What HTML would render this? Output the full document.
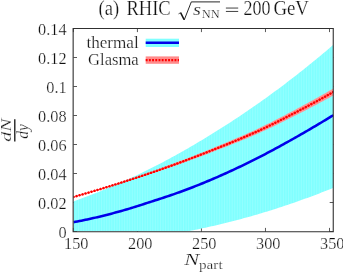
<!DOCTYPE html>
<html><head><meta charset="utf-8"><style>
html,body{margin:0;padding:0;background:#fff;}
svg{display:block;font-family:"Liberation Serif",serif;}
svg{will-change:transform;}
text{stroke:#fff;stroke-width:0.24px;}
</style></head><body>
<svg width="343" height="272" viewBox="0 0 343 272">
<rect width="343" height="272" fill="#fff"/>
<clipPath id="c"><rect x="73.4" y="28.5" width="259.9" height="203.0"/></clipPath>
<g stroke="#222" stroke-width="0.75" fill="none">
<path d="M73.40,231.75 v-3.85 M73.40,28.5 v3.6"/>
<path d="M137.43,231.75 v-3.85 M137.43,28.5 v3.6"/>
<path d="M201.45,231.75 v-3.85 M201.45,28.5 v3.6"/>
<path d="M265.48,231.75 v-3.85 M265.48,28.5 v3.6"/>
<path d="M329.50,231.75 v-3.85 M329.50,28.5 v3.6"/>
<path d="M73.4,231.50 h3.6 M333.3,231.50 h-3.6"/>
<path d="M73.4,202.50 h3.6 M333.3,202.50 h-3.6"/>
<path d="M73.4,173.50 h3.6 M333.3,173.50 h-3.6"/>
<path d="M73.4,144.50 h3.6 M333.3,144.50 h-3.6"/>
<path d="M73.4,115.50 h3.6 M333.3,115.50 h-3.6"/>
<path d="M73.4,86.50 h3.6 M333.3,86.50 h-3.6"/>
<path d="M73.4,57.50 h3.6 M333.3,57.50 h-3.6"/>
<path d="M73.4,28.50 h3.6 M333.3,28.50 h-3.6"/>
</g>
<g clip-path="url(#c)">
<path d="M73.40,201.43 L75.40,200.72 L77.40,200.01 L79.40,199.28 L81.40,198.55 L83.40,197.82 L85.40,197.07 L87.39,196.32 L89.39,195.56 L91.39,194.79 L93.39,194.02 L95.39,193.23 L97.39,192.44 L99.39,191.64 L101.39,190.84 L103.39,190.03 L105.39,189.20 L107.39,188.37 L109.39,187.54 L111.39,186.69 L113.38,185.84 L115.38,184.98 L117.38,184.11 L119.38,183.23 L121.38,182.35 L123.38,181.45 L125.38,180.55 L127.38,179.64 L129.38,178.72 L131.38,177.80 L133.38,176.86 L135.38,175.92 L137.38,174.97 L139.37,174.01 L141.37,173.05 L143.37,172.07 L145.37,171.09 L147.37,170.10 L149.37,169.10 L151.37,168.09 L153.37,167.07 L155.37,166.05 L157.37,165.02 L159.37,163.98 L161.37,162.93 L163.37,161.88 L165.36,160.81 L167.36,159.74 L169.36,158.67 L171.36,157.58 L173.36,156.49 L175.36,155.39 L177.36,154.28 L179.36,153.16 L181.36,152.04 L183.36,150.91 L185.36,149.77 L187.36,148.63 L189.36,147.48 L191.35,146.32 L193.35,145.15 L195.35,143.98 L197.35,142.80 L199.35,141.61 L201.35,140.42 L203.35,139.22 L205.35,138.01 L207.35,136.79 L209.35,135.57 L211.35,134.34 L213.35,133.11 L215.35,131.86 L217.34,130.61 L219.34,129.36 L221.34,128.09 L223.34,126.82 L225.34,125.54 L227.34,124.25 L229.34,122.96 L231.34,121.66 L233.34,120.35 L235.34,119.04 L237.34,117.71 L239.34,116.38 L241.34,115.04 L243.33,113.70 L245.33,112.35 L247.33,110.98 L249.33,109.62 L251.33,108.24 L253.33,106.86 L255.33,105.46 L257.33,104.06 L259.33,102.66 L261.33,101.24 L263.33,99.82 L265.33,98.39 L267.33,96.95 L269.32,95.50 L271.32,94.04 L273.32,92.58 L275.32,91.11 L277.32,89.63 L279.32,88.14 L281.32,86.65 L283.32,85.14 L285.32,83.63 L287.32,82.11 L289.32,80.58 L291.32,79.04 L293.32,77.50 L295.31,75.94 L297.31,74.38 L299.31,72.81 L301.31,71.23 L303.31,69.65 L305.31,68.05 L307.31,66.45 L309.31,64.84 L311.31,63.22 L313.31,61.59 L315.31,59.95 L317.31,58.31 L319.31,56.65 L321.30,54.99 L323.30,53.32 L325.30,51.64 L327.30,49.96 L329.30,48.26 L331.30,46.56 L333.30,44.84 L333.30,187.84 L331.30,188.65 L329.30,189.45 L327.30,190.25 L325.30,191.04 L323.30,191.83 L321.30,192.60 L319.31,193.38 L317.31,194.14 L315.31,194.91 L313.31,195.66 L311.31,196.41 L309.31,197.15 L307.31,197.89 L305.31,198.62 L303.31,199.35 L301.31,200.07 L299.31,200.78 L297.31,201.49 L295.31,202.19 L293.32,202.89 L291.32,203.58 L289.32,204.26 L287.32,204.94 L285.32,205.61 L283.32,206.28 L281.32,206.94 L279.32,207.59 L277.32,208.24 L275.32,208.89 L273.32,209.52 L271.32,210.15 L269.32,210.78 L267.33,211.40 L265.33,212.01 L263.33,212.62 L261.33,213.22 L259.33,213.82 L257.33,214.41 L255.33,214.99 L253.33,215.57 L251.33,216.14 L249.33,216.71 L247.33,217.27 L245.33,217.82 L243.33,218.37 L241.34,218.91 L239.34,219.45 L237.34,219.98 L235.34,220.51 L233.34,221.03 L231.34,221.54 L229.34,222.05 L227.34,222.55 L225.34,223.05 L223.34,223.54 L221.34,224.02 L219.34,224.50 L217.34,224.97 L215.35,225.44 L213.35,225.90 L211.35,226.36 L209.35,226.81 L207.35,227.25 L205.35,227.69 L203.35,228.12 L201.35,228.55 L199.35,228.97 L197.35,229.38 L195.35,229.79 L193.35,230.19 L191.35,230.59 L189.36,230.98 L187.36,231.37 L185.36,231.50 L183.36,231.50 L181.36,231.50 L179.36,231.50 L177.36,231.50 L175.36,231.50 L173.36,231.50 L171.36,231.50 L169.36,231.50 L167.36,231.50 L165.36,231.50 L163.37,231.50 L161.37,231.50 L159.37,231.50 L157.37,231.50 L155.37,231.50 L153.37,231.50 L151.37,231.50 L149.37,231.50 L147.37,231.50 L145.37,231.50 L143.37,231.50 L141.37,231.50 L139.37,231.50 L137.38,231.50 L135.38,231.50 L133.38,231.50 L131.38,231.50 L129.38,231.50 L127.38,231.50 L125.38,231.50 L123.38,231.50 L121.38,231.50 L119.38,231.50 L117.38,231.50 L115.38,231.50 L113.38,231.50 L111.39,231.50 L109.39,231.50 L107.39,231.50 L105.39,231.50 L103.39,231.50 L101.39,231.50 L99.39,231.50 L97.39,231.50 L95.39,231.50 L93.39,231.50 L91.39,231.50 L89.39,231.50 L87.39,231.50 L85.40,231.50 L83.40,231.50 L81.40,231.50 L79.40,231.50 L77.40,231.50 L75.40,231.50 L73.40,231.50Z" fill="#80ffff"/>
<clipPath id="cb"><path d="M73.40,201.43 L75.40,200.72 L77.40,200.01 L79.40,199.28 L81.40,198.55 L83.40,197.82 L85.40,197.07 L87.39,196.32 L89.39,195.56 L91.39,194.79 L93.39,194.02 L95.39,193.23 L97.39,192.44 L99.39,191.64 L101.39,190.84 L103.39,190.03 L105.39,189.20 L107.39,188.37 L109.39,187.54 L111.39,186.69 L113.38,185.84 L115.38,184.98 L117.38,184.11 L119.38,183.23 L121.38,182.35 L123.38,181.45 L125.38,180.55 L127.38,179.64 L129.38,178.72 L131.38,177.80 L133.38,176.86 L135.38,175.92 L137.38,174.97 L139.37,174.01 L141.37,173.05 L143.37,172.07 L145.37,171.09 L147.37,170.10 L149.37,169.10 L151.37,168.09 L153.37,167.07 L155.37,166.05 L157.37,165.02 L159.37,163.98 L161.37,162.93 L163.37,161.88 L165.36,160.81 L167.36,159.74 L169.36,158.67 L171.36,157.58 L173.36,156.49 L175.36,155.39 L177.36,154.28 L179.36,153.16 L181.36,152.04 L183.36,150.91 L185.36,149.77 L187.36,148.63 L189.36,147.48 L191.35,146.32 L193.35,145.15 L195.35,143.98 L197.35,142.80 L199.35,141.61 L201.35,140.42 L203.35,139.22 L205.35,138.01 L207.35,136.79 L209.35,135.57 L211.35,134.34 L213.35,133.11 L215.35,131.86 L217.34,130.61 L219.34,129.36 L221.34,128.09 L223.34,126.82 L225.34,125.54 L227.34,124.25 L229.34,122.96 L231.34,121.66 L233.34,120.35 L235.34,119.04 L237.34,117.71 L239.34,116.38 L241.34,115.04 L243.33,113.70 L245.33,112.35 L247.33,110.98 L249.33,109.62 L251.33,108.24 L253.33,106.86 L255.33,105.46 L257.33,104.06 L259.33,102.66 L261.33,101.24 L263.33,99.82 L265.33,98.39 L267.33,96.95 L269.32,95.50 L271.32,94.04 L273.32,92.58 L275.32,91.11 L277.32,89.63 L279.32,88.14 L281.32,86.65 L283.32,85.14 L285.32,83.63 L287.32,82.11 L289.32,80.58 L291.32,79.04 L293.32,77.50 L295.31,75.94 L297.31,74.38 L299.31,72.81 L301.31,71.23 L303.31,69.65 L305.31,68.05 L307.31,66.45 L309.31,64.84 L311.31,63.22 L313.31,61.59 L315.31,59.95 L317.31,58.31 L319.31,56.65 L321.30,54.99 L323.30,53.32 L325.30,51.64 L327.30,49.96 L329.30,48.26 L331.30,46.56 L333.30,44.84 L333.30,187.84 L331.30,188.65 L329.30,189.45 L327.30,190.25 L325.30,191.04 L323.30,191.83 L321.30,192.60 L319.31,193.38 L317.31,194.14 L315.31,194.91 L313.31,195.66 L311.31,196.41 L309.31,197.15 L307.31,197.89 L305.31,198.62 L303.31,199.35 L301.31,200.07 L299.31,200.78 L297.31,201.49 L295.31,202.19 L293.32,202.89 L291.32,203.58 L289.32,204.26 L287.32,204.94 L285.32,205.61 L283.32,206.28 L281.32,206.94 L279.32,207.59 L277.32,208.24 L275.32,208.89 L273.32,209.52 L271.32,210.15 L269.32,210.78 L267.33,211.40 L265.33,212.01 L263.33,212.62 L261.33,213.22 L259.33,213.82 L257.33,214.41 L255.33,214.99 L253.33,215.57 L251.33,216.14 L249.33,216.71 L247.33,217.27 L245.33,217.82 L243.33,218.37 L241.34,218.91 L239.34,219.45 L237.34,219.98 L235.34,220.51 L233.34,221.03 L231.34,221.54 L229.34,222.05 L227.34,222.55 L225.34,223.05 L223.34,223.54 L221.34,224.02 L219.34,224.50 L217.34,224.97 L215.35,225.44 L213.35,225.90 L211.35,226.36 L209.35,226.81 L207.35,227.25 L205.35,227.69 L203.35,228.12 L201.35,228.55 L199.35,228.97 L197.35,229.38 L195.35,229.79 L193.35,230.19 L191.35,230.59 L189.36,230.98 L187.36,231.37 L185.36,231.50 L183.36,231.50 L181.36,231.50 L179.36,231.50 L177.36,231.50 L175.36,231.50 L173.36,231.50 L171.36,231.50 L169.36,231.50 L167.36,231.50 L165.36,231.50 L163.37,231.50 L161.37,231.50 L159.37,231.50 L157.37,231.50 L155.37,231.50 L153.37,231.50 L151.37,231.50 L149.37,231.50 L147.37,231.50 L145.37,231.50 L143.37,231.50 L141.37,231.50 L139.37,231.50 L137.38,231.50 L135.38,231.50 L133.38,231.50 L131.38,231.50 L129.38,231.50 L127.38,231.50 L125.38,231.50 L123.38,231.50 L121.38,231.50 L119.38,231.50 L117.38,231.50 L115.38,231.50 L113.38,231.50 L111.39,231.50 L109.39,231.50 L107.39,231.50 L105.39,231.50 L103.39,231.50 L101.39,231.50 L99.39,231.50 L97.39,231.50 L95.39,231.50 L93.39,231.50 L91.39,231.50 L89.39,231.50 L87.39,231.50 L85.40,231.50 L83.40,231.50 L81.40,231.50 L79.40,231.50 L77.40,231.50 L75.40,231.50 L73.40,231.50Z"/></clipPath>
<path d="M75.96,28.5V231.5 M78.52,28.5V231.5 M81.08,28.5V231.5 M83.64,28.5V231.5 M86.21,28.5V231.5 M88.77,28.5V231.5 M91.33,28.5V231.5 M93.89,28.5V231.5 M96.45,28.5V231.5 M99.01,28.5V231.5 M101.57,28.5V231.5 M104.13,28.5V231.5 M106.69,28.5V231.5 M109.25,28.5V231.5 M111.81,28.5V231.5 M114.38,28.5V231.5 M116.94,28.5V231.5 M119.50,28.5V231.5 M122.06,28.5V231.5 M124.62,28.5V231.5 M127.18,28.5V231.5 M129.74,28.5V231.5 M132.30,28.5V231.5 M134.86,28.5V231.5 M137.43,28.5V231.5 M139.99,28.5V231.5 M142.55,28.5V231.5 M145.11,28.5V231.5 M147.67,28.5V231.5 M150.23,28.5V231.5 M152.79,28.5V231.5 M155.35,28.5V231.5 M157.91,28.5V231.5 M160.47,28.5V231.5 M163.03,28.5V231.5 M165.60,28.5V231.5 M168.16,28.5V231.5 M170.72,28.5V231.5 M173.28,28.5V231.5 M175.84,28.5V231.5 M178.40,28.5V231.5 M180.96,28.5V231.5 M183.52,28.5V231.5 M186.08,28.5V231.5 M188.65,28.5V231.5 M191.21,28.5V231.5 M193.77,28.5V231.5 M196.33,28.5V231.5 M198.89,28.5V231.5 M201.45,28.5V231.5 M204.01,28.5V231.5 M206.57,28.5V231.5 M209.13,28.5V231.5 M211.69,28.5V231.5 M214.25,28.5V231.5 M216.82,28.5V231.5 M219.38,28.5V231.5 M221.94,28.5V231.5 M224.50,28.5V231.5 M227.06,28.5V231.5 M229.62,28.5V231.5 M232.18,28.5V231.5 M234.74,28.5V231.5 M237.30,28.5V231.5 M239.87,28.5V231.5 M242.43,28.5V231.5 M244.99,28.5V231.5 M247.55,28.5V231.5 M250.11,28.5V231.5 M252.67,28.5V231.5 M255.23,28.5V231.5 M257.79,28.5V231.5 M260.35,28.5V231.5 M262.91,28.5V231.5 M265.48,28.5V231.5 M268.04,28.5V231.5 M270.60,28.5V231.5 M273.16,28.5V231.5 M275.72,28.5V231.5 M278.28,28.5V231.5 M280.84,28.5V231.5 M283.40,28.5V231.5 M285.96,28.5V231.5 M288.52,28.5V231.5 M291.09,28.5V231.5 M293.65,28.5V231.5 M296.21,28.5V231.5 M298.77,28.5V231.5 M301.33,28.5V231.5 M303.89,28.5V231.5 M306.45,28.5V231.5 M309.01,28.5V231.5 M311.57,28.5V231.5 M314.13,28.5V231.5 M316.69,28.5V231.5 M319.26,28.5V231.5 M321.82,28.5V231.5 M324.38,28.5V231.5 M326.94,28.5V231.5 M329.50,28.5V231.5 M332.06,28.5V231.5" stroke="#ffffff" stroke-width="0.16" fill="none" clip-path="url(#cb)"/>
<path d="M73.40,197.00 L75.40,196.40 L77.40,195.79 L79.40,195.19 L81.40,194.58 L83.40,193.97 L85.40,193.36 L87.39,192.75 L89.39,192.13 L91.39,191.51 L93.39,190.89 L95.39,190.27 L97.39,189.64 L99.39,189.01 L101.39,188.38 L103.39,187.75 L105.39,187.11 L107.39,186.47 L109.39,185.83 L111.39,185.18 L113.38,184.54 L115.38,183.88 L117.38,183.23 L119.38,182.57 L121.38,181.92 L123.38,181.25 L125.38,180.59 L127.38,179.92 L129.38,179.25 L131.38,178.57 L133.38,177.89 L135.38,177.21 L137.38,176.53 L139.37,175.84 L141.37,175.15 L143.37,174.46 L145.37,173.76 L147.37,173.06 L149.37,172.35 L151.37,171.65 L153.37,170.93 L155.37,170.22 L157.37,169.50 L159.37,168.78 L161.37,168.05 L163.37,167.33 L165.36,166.59 L167.36,165.86 L169.36,165.12 L171.36,164.37 L173.36,163.62 L175.36,162.87 L177.36,162.12 L179.36,161.36 L181.36,160.60 L183.36,159.83 L185.36,159.06 L187.36,158.28 L189.36,157.50 L191.35,156.72 L193.35,155.94 L195.35,155.15 L197.35,154.35 L199.35,153.56 L201.35,152.75 L203.35,151.95 L205.35,151.14 L207.35,150.33 L209.35,149.52 L211.35,148.70 L213.35,147.88 L215.35,147.06 L217.34,146.24 L219.34,145.41 L221.34,144.58 L223.34,143.75 L225.34,142.92 L227.34,142.09 L229.34,141.25 L231.34,140.41 L233.34,139.56 L235.34,138.71 L237.34,137.86 L239.34,137.00 L241.34,136.14 L243.33,135.27 L245.33,134.39 L247.33,133.51 L249.33,132.61 L251.33,131.71 L253.33,130.80 L255.33,129.88 L257.33,128.94 L259.33,128.00 L261.33,127.05 L263.33,126.08 L265.33,125.11 L267.33,124.12 L269.32,123.13 L271.32,122.13 L273.32,121.12 L275.32,120.10 L277.32,119.07 L279.32,118.04 L281.32,117.01 L283.32,115.97 L285.32,114.92 L287.32,113.87 L289.32,112.82 L291.32,111.76 L293.32,110.70 L295.31,109.63 L297.31,108.56 L299.31,107.49 L301.31,106.42 L303.31,105.34 L305.31,104.25 L307.31,103.17 L309.31,102.08 L311.31,100.98 L313.31,99.88 L315.31,98.77 L317.31,97.66 L319.31,96.54 L321.30,95.42 L323.30,94.29 L325.30,93.16 L327.30,92.01 L329.30,90.87 L331.30,89.71 L333.30,88.56 L333.30,95.46 L331.30,96.56 L329.30,97.66 L327.30,98.76 L325.30,99.84 L323.30,100.92 L321.30,102.00 L319.31,103.07 L317.31,104.13 L315.31,105.19 L313.31,106.25 L311.31,107.30 L309.31,108.34 L307.31,109.38 L305.31,110.41 L303.31,111.44 L301.31,112.47 L299.31,113.49 L297.31,114.51 L295.31,115.52 L293.32,116.54 L291.32,117.54 L289.32,118.55 L287.32,119.55 L285.32,120.55 L283.32,121.54 L281.32,122.53 L279.32,123.51 L277.32,124.49 L275.32,125.46 L273.32,126.42 L271.32,127.38 L269.32,128.33 L267.33,129.27 L265.33,130.20 L263.33,131.12 L261.33,132.04 L259.33,132.94 L257.33,133.83 L255.33,134.71 L253.33,135.58 L251.33,136.44 L249.33,137.29 L247.33,138.13 L245.33,138.96 L243.33,139.78 L241.34,140.60 L239.34,141.41 L237.34,142.21 L235.34,143.01 L233.34,143.81 L231.34,144.60 L229.34,145.39 L227.34,146.17 L225.34,146.96 L223.34,147.74 L221.34,148.51 L219.34,149.29 L217.34,150.06 L215.35,150.83 L213.35,151.60 L211.35,152.37 L209.35,153.13 L207.35,153.89 L205.35,154.65 L203.35,155.40 L201.35,156.15 L199.35,156.90 L197.35,157.64 L195.35,158.38 L193.35,159.12 L191.35,159.85 L189.36,160.58 L187.36,161.31 L185.36,162.03 L183.36,162.75 L181.36,163.46 L179.36,164.17 L177.36,164.88 L175.36,165.58 L173.36,166.28 L171.36,166.97 L169.36,167.66 L167.36,168.35 L165.36,169.03 L163.37,169.71 L161.37,170.39 L159.37,171.06 L157.37,171.73 L155.37,172.40 L153.37,173.06 L151.37,173.72 L149.37,174.37 L147.37,175.02 L145.37,175.67 L143.37,176.31 L141.37,176.96 L139.37,177.59 L137.38,178.23 L135.38,178.86 L133.38,179.49 L131.38,180.11 L129.38,180.73 L127.38,181.35 L125.38,181.97 L123.38,182.58 L121.38,183.19 L119.38,183.80 L117.38,184.40 L115.38,185.00 L113.38,185.60 L111.39,186.19 L109.39,186.78 L107.39,187.37 L105.39,187.96 L103.39,188.54 L101.39,189.12 L99.39,189.70 L97.39,190.28 L95.39,190.85 L93.39,191.42 L91.39,191.99 L89.39,192.56 L87.39,193.12 L85.40,193.68 L83.40,194.24 L81.40,194.79 L79.40,195.35 L77.40,195.90 L75.40,196.45 L73.40,197.00Z" fill="#ff9494"/>
<path d="M73.40,222.18 L75.40,221.81 L77.40,221.43 L79.40,221.05 L81.40,220.65 L83.40,220.25 L85.40,219.83 L87.39,219.41 L89.39,218.98 L91.39,218.54 L93.39,218.09 L95.39,217.63 L97.39,217.17 L99.39,216.69 L101.39,216.21 L103.39,215.72 L105.39,215.22 L107.39,214.71 L109.39,214.20 L111.39,213.67 L113.38,213.14 L115.38,212.60 L117.38,212.05 L119.38,211.50 L121.38,210.93 L123.38,210.36 L125.38,209.78 L127.38,209.19 L129.38,208.60 L131.38,208.00 L133.38,207.38 L135.38,206.77 L137.38,206.14 L139.37,205.51 L141.37,204.87 L143.37,204.22 L145.37,203.56 L147.37,202.90 L149.37,202.23 L151.37,201.59 L153.37,200.97 L155.37,200.34 L157.37,199.70 L159.37,199.06 L161.37,198.40 L163.37,197.74 L165.36,197.08 L167.36,196.40 L169.36,195.72 L171.36,195.03 L173.36,194.33 L175.36,193.63 L177.36,192.91 L179.36,192.19 L181.36,191.47 L183.36,190.73 L185.36,189.99 L187.36,189.24 L189.36,188.48 L191.35,187.71 L193.35,186.94 L195.35,186.16 L197.35,185.37 L199.35,184.57 L201.35,183.76 L203.35,182.95 L205.35,182.13 L207.35,181.30 L209.35,180.47 L211.35,179.62 L213.35,178.77 L215.35,177.91 L217.34,177.05 L219.34,176.17 L221.34,175.29 L223.34,174.40 L225.34,173.50 L227.34,172.60 L229.34,171.69 L231.34,170.77 L233.34,169.84 L235.34,168.90 L237.34,167.96 L239.34,167.01 L241.34,166.05 L243.33,165.09 L245.33,164.12 L247.33,163.14 L249.33,162.15 L251.33,161.16 L253.33,160.16 L255.33,159.15 L257.33,158.13 L259.33,157.11 L261.33,156.08 L263.33,155.05 L265.33,154.01 L267.33,152.96 L269.32,151.90 L271.32,150.84 L273.32,149.77 L275.32,148.70 L277.32,147.62 L279.32,146.53 L281.32,145.44 L283.32,144.34 L285.32,143.24 L287.32,142.13 L289.32,141.01 L291.32,139.89 L293.32,138.76 L295.31,137.63 L297.31,136.49 L299.31,135.35 L301.31,134.20 L303.31,133.05 L305.31,131.89 L307.31,130.73 L309.31,129.56 L311.31,128.39 L313.31,127.22 L315.31,126.04 L317.31,124.85 L319.31,123.66 L321.30,122.47 L323.30,121.27 L325.30,120.07 L327.30,118.87 L329.30,117.66 L331.30,116.45 L333.30,115.25" fill="none" stroke="#0000ea" stroke-width="2.55"/>
<path d="M73.40,197.00 L75.40,196.42 L77.40,195.85 L79.40,195.27 L81.40,194.69 L83.40,194.11 L85.40,193.52 L87.39,192.93 L89.39,192.34 L91.39,191.75 L93.39,191.16 L95.39,190.56 L97.39,189.96 L99.39,189.36 L101.39,188.75 L103.39,188.15 L105.39,187.54 L107.39,186.92 L109.39,186.31 L111.39,185.69 L113.38,185.07 L115.38,184.44 L117.38,183.82 L119.38,183.19 L121.38,182.55 L123.38,181.92 L125.38,181.28 L127.38,180.64 L129.38,179.99 L131.38,179.34 L133.38,178.69 L135.38,178.04 L137.38,177.38 L139.37,176.72 L141.37,176.05 L143.37,175.39 L145.37,174.71 L147.37,174.04 L149.37,173.36 L151.37,172.68 L153.37,172.00 L155.37,171.31 L157.37,170.62 L159.37,169.92 L161.37,169.22 L163.37,168.52 L165.36,167.81 L167.36,167.10 L169.36,166.39 L171.36,165.67 L173.36,164.95 L175.36,164.23 L177.36,163.50 L179.36,162.77 L181.36,162.03 L183.36,161.29 L185.36,160.54 L187.36,159.80 L189.36,159.04 L191.35,158.29 L193.35,157.53 L195.35,156.76 L197.35,156.00 L199.35,155.23 L201.35,154.45 L203.35,153.68 L205.35,152.89 L207.35,152.11 L209.35,151.32 L211.35,150.53 L213.35,149.74 L215.35,148.95 L217.34,148.15 L219.34,147.35 L221.34,146.55 L223.34,145.74 L225.34,144.94 L227.34,144.13 L229.34,143.32 L231.34,142.50 L233.34,141.69 L235.34,140.86 L237.34,140.04 L239.34,139.21 L241.34,138.37 L243.33,137.53 L245.33,136.68 L247.33,135.82 L249.33,134.95 L251.33,134.07 L253.33,133.19 L255.33,132.29 L257.33,131.39 L259.33,130.47 L261.33,129.54 L263.33,128.60 L265.33,127.66 L267.33,126.70 L269.32,125.73 L271.32,124.75 L273.32,123.77 L275.32,122.78 L277.32,121.78 L279.32,120.78 L281.32,119.77 L283.32,118.75 L285.32,117.73 L287.32,116.71 L289.32,115.68 L291.32,114.65 L293.32,113.62 L295.31,112.58 L297.31,111.54 L299.31,110.49 L301.31,109.44 L303.31,108.39 L305.31,107.33 L307.31,106.27 L309.31,105.21 L311.31,104.14 L313.31,103.06 L315.31,101.98 L317.31,100.90 L319.31,99.81 L321.30,98.71 L323.30,97.61 L325.30,96.50 L327.30,95.38 L329.30,94.26 L331.30,93.14 L333.30,92.01" fill="none" stroke="#ff0000" stroke-width="2.45" stroke-linecap="round" stroke-dasharray="0.3 2.82"/>
</g>
<g stroke="#303030" stroke-width="1.1" fill="none" stroke-linecap="square">
<path d="M73.15,28.45 V231.75 M333.25,28.45 V231.75 M73.15,28.45 H333.25 M73.15,231.75 H333.25"/>
</g>
<g font-size="16.3px" fill="#111">
<text x="76.20" y="248.8" text-anchor="middle">150</text>
<text x="140.23" y="248.8" text-anchor="middle">200</text>
<text x="204.25" y="248.8" text-anchor="middle">250</text>
<text x="268.28" y="248.8" text-anchor="middle">300</text>
<text x="332.30" y="248.8" text-anchor="middle">350</text>
<text x="66.6" y="237.50" text-anchor="end">0</text>
<text x="66.6" y="208.50" text-anchor="end">0.02</text>
<text x="66.6" y="179.50" text-anchor="end">0.04</text>
<text x="66.6" y="150.50" text-anchor="end">0.06</text>
<text x="66.6" y="121.50" text-anchor="end">0.08</text>
<text x="66.6" y="92.50" text-anchor="end">0.1</text>
<text x="66.6" y="63.50" text-anchor="end">0.12</text>
<text x="66.6" y="34.50" text-anchor="end">0.14</text>
</g>
<!-- legend -->
<g font-size="16.6px" fill="#111">
<text x="138.7" y="48.0" text-anchor="end" textLength="52.3" lengthAdjust="spacingAndGlyphs">thermal</text>
<text x="138.7" y="65.1" text-anchor="end" textLength="50.6" lengthAdjust="spacingAndGlyphs">Glasma</text>
</g>
<rect x="145.7" y="38.7" width="33.3" height="8.3" fill="#80ffff"/>
<path d="M145.7,42.7 H179" stroke="#0000ea" stroke-width="2.55"/>
<rect x="145.7" y="56.4" width="33.3" height="7.4" fill="#ff8c8c"/>
<path d="M145.7,60.1 H179" stroke="#ff0000" stroke-width="2.3" stroke-dasharray="1.9 1.3"/>
<!-- title -->
<g font-size="20px" fill="#111">
<text x="98.6" y="14.6" textLength="20.6" lengthAdjust="spacingAndGlyphs">(a)</text>
<text x="126.4" y="14.6" textLength="44.3" lengthAdjust="spacingAndGlyphs">RHIC</text>
<path d="M178.5,13.9 L180.6,12.7" stroke="#111" stroke-width="0.7" fill="none"/><path d="M180.6,12.7 L184.1,19.6" stroke="#111" stroke-width="1.5" fill="none"/><path d="M184.2,20 L191.3,1.9 H220" stroke="#111" stroke-width="0.9" fill="none" stroke-linejoin="miter"/>
<text x="193" y="14.6" font-size="17.5px" font-style="italic" textLength="8" lengthAdjust="spacingAndGlyphs">s</text>
<text x="201.8" y="17.8" font-size="12.4px" textLength="17.8" lengthAdjust="spacingAndGlyphs">NN</text>
<path d="M225.9,8.05 H238.2 M225.9,11.45 H238.2" stroke="#111" stroke-width="0.8" fill="none"/>
<text x="243.6" y="14.6" textLength="27" lengthAdjust="spacingAndGlyphs">200</text>
<text x="273.4" y="14.6" textLength="35.6" lengthAdjust="spacingAndGlyphs">GeV</text>
</g>
<!-- xlabel -->
<g fill="#111">
<text x="184.2" y="264.7" font-size="17.3px" font-style="italic" textLength="15" lengthAdjust="spacingAndGlyphs">N</text>
<text x="199.0" y="268.7" font-size="11.8px" textLength="23.6" lengthAdjust="spacingAndGlyphs">part</text>
</g>
<!-- ylabel -->
<g fill="#111" transform="translate(0,0)">
<g transform="translate(10.7,141.7) rotate(-90)"><text x="0" y="0" font-size="13.7px" font-style="italic" textLength="23.2" lengthAdjust="spacingAndGlyphs">dN</text></g>
<path d="M14.8,119.2 V141.6" stroke="#111" stroke-width="1.3"/>
<g transform="translate(27.6,138.8) rotate(-90)"><text x="0" y="0" font-size="16px" font-style="italic" textLength="14.6" lengthAdjust="spacingAndGlyphs">dy</text></g>
</g>
</svg>
</body></html>
